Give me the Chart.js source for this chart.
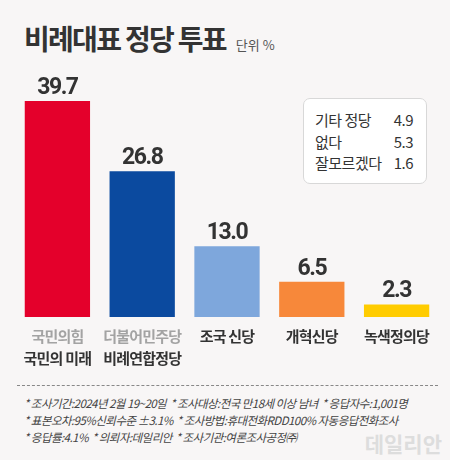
<!DOCTYPE html>
<html>
<head>
<meta charset="utf-8">
<script src="https://cdn.jsdelivr.net/npm/chart.js@4/dist/chart.umd.min.js"></script>
<style>
  body { margin: 0; background: #f8f6f6; }
  #wrap { position: relative; width: 450px; height: 460px; background: #f8f6f6; font-family: "Noto Sans CJK KR", sans-serif; overflow: hidden; }
  #title { position: absolute; left: 24px; top: 18px; font-size: 28px; font-weight: bold; color: #333; letter-spacing: -1.7px; }
  #title span { font-size: 13px; font-weight: normal; color: #555; letter-spacing: 0; margin-left: 10px; }
  #box { position: absolute; left: 303px; top: 98px; width: 124px; height: 86px; background: #fff; border: 1px solid #d8d8d8; border-radius: 7px; box-sizing: border-box; padding: 10px 13px 0 11px; font-size: 15px; color: #333; letter-spacing: -0.5px; }
  #box div { display: flex; justify-content: space-between; height: 21.5px; line-height: 21.5px; }
  #chartBox { position: absolute; left: 0; top: 60px; width: 450px; height: 310px; }
  #dash { position: absolute; left: 17px; right: 12px; top: 385px; border-top: 1px dashed #888; }
  #notes { position: absolute; left: 24px; top: 395px; font-size: 11.5px; font-style: italic; color: #444; line-height: 17px; letter-spacing: -0.55px; white-space: nowrap; }
  #logo { position: absolute; right: 8px; top: 428px; font-size: 21px; font-weight: bold; color: #ddd; }
</style>
</head>
<body>
<div id="wrap">
  <div id="title">비례대표 정당 투표<span>단위 %</span></div>
  <div id="chartBox"><canvas id="chart"></canvas></div>
  <div id="box"></div>
  <div id="dash"></div>
  <div id="notes">
    * 조사기간:2024년 2월 19~20일 &nbsp;* 조사대상:전국 만18세 이상 남녀 &nbsp;* 응답자수:1,001명<br>
    * 표본오차:95%신뢰수준 ±3.1% &nbsp;* 조사방법:휴대전화RDD100% 자동응답전화조사<br>
    * 응답률:4.1% &nbsp;* 의뢰자:데일리안 &nbsp;* 조사기관:여론조사공정㈜
  </div>
  <div id="logo">데일리안</div>
</div>
<script>
const parties = ['국민의힘', '더불어민주당', '조국 신당', '개혁신당', '녹색정의당'];
const subNames = ['국민의 미래', '비례연합정당', '', '', ''];
const votes = [39.7, 26.8, 13.0, 6.5, 2.3];
const barColors = ['#e4002b', '#0b4a9f', '#7ea7dc', '#f7883a', '#ffcc00'];
const otherNames = ['기타 정당', '없다', '잘모르겠다'];
const otherValues = [4.9, 5.3, 1.6];

const box = document.getElementById('box');
otherNames.forEach((name, i) => {
  const row = document.createElement('div');
  row.innerHTML = '<span>' + name + '</span><span>' + otherValues[i].toFixed(1) + '</span>';
  box.appendChild(row);
});

// value labels above bars and two-line category names below
const labelPlugin = {
  id: 'labels',
  afterDatasetsDraw(chart) {
    const ctx = chart.ctx;
    const meta = chart.getDatasetMeta(0);
    const xScale = chart.scales.x;
    const bottom = chart.chartArea.bottom;
    ctx.save();
    ctx.textAlign = 'center';
    ctx.fillStyle = '#333';
    ctx.font = 'bold 23px Roboto';
    ctx.letterSpacing = '-1.5px';
    ctx.textBaseline = 'alphabetic';
    meta.data.forEach((bar, i) => {
      ctx.fillText(votes[i].toFixed(1), bar.x, bar.y - 7);
    });
    ctx.letterSpacing = '-0.8px';
    ctx.font = 'bold 15px "Noto Sans CJK KR"';
    ctx.textBaseline = 'middle';
    parties.forEach((name, i) => {
      const x = xScale.getPixelForValue(i);
      ctx.fillStyle = subNames[i] ? '#a3a3a3' : '#333';
      ctx.fillText(name, x, bottom + 19);
      if (subNames[i]) {
        ctx.fillStyle = '#333';
        ctx.fillText(subNames[i], x, bottom + 41);
      }
    });
    ctx.restore();
  }
};

new Chart(document.getElementById('chart'), {
  type: 'bar',
  data: {
    labels: parties,
    datasets: [{
      data: votes,
      backgroundColor: barColors,
      barPercentage: 0.77,
      categoryPercentage: 1
    }]
  },
  options: {
    responsive: true,
    maintainAspectRatio: false,
    animation: false,
    layout: { padding: { left: 15, right: 11, top: 17.6, bottom: 53 } },
    plugins: { legend: { display: false }, tooltip: { enabled: false } },
    scales: {
      x: { display: false },
      y: { display: false, min: 0, max: 44 }
    }
  },
  plugins: [labelPlugin]
});
</script>
</body>
</html>
